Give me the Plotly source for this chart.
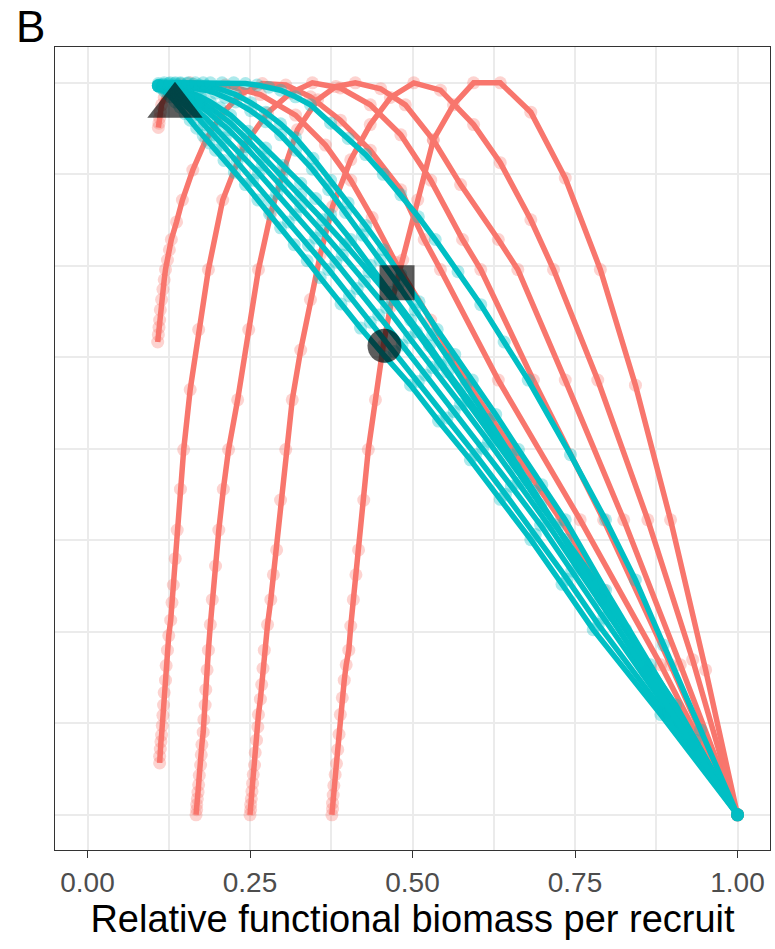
import plotly.graph_objects as go

# ---------------- data ----------------
# Red curves (six scenarios), x = relative functional biomass per recruit, y = relative value
red_A_x = [0.376, 0.377, 0.377, 0.378, 0.379, 0.381, 0.383, 0.385, 0.387, 0.389, 0.392, 0.395, 0.398, 0.402,
           0.405, 0.409, 0.413, 0.417, 0.425, 0.432, 0.443, 0.455, 0.466, 0.485, 0.508, 0.532, 0.563, 0.594,
           0.635, 0.682, 0.735, 0.789, 0.843, 0.897, 0.951, 1.000]
red_A_y = [0.000, 0.008, 0.016, 0.027, 0.040, 0.055, 0.070, 0.089, 0.110, 0.137, 0.160, 0.184, 0.205, 0.225,
           0.258, 0.294, 0.328, 0.362, 0.430, 0.499, 0.567, 0.641, 0.694, 0.758, 0.840, 0.922, 0.970, 1.000,
           1.000, 0.960, 0.870, 0.745, 0.587, 0.403, 0.198, 0.000]

red_B_x = [0.250, 0.251, 0.251, 0.252, 0.253, 0.254, 0.255, 0.257, 0.258, 0.260, 0.262, 0.263, 0.266, 0.268,
           0.270, 0.272, 0.277, 0.282, 0.286, 0.291, 0.297, 0.305, 0.315, 0.328, 0.343, 0.358, 0.377, 0.405,
           0.435, 0.466, 0.502, 0.543, 0.594, 0.635, 0.682, 0.717, 0.785, 0.862, 0.931, 1.000]
red_B_y = [0.000, 0.007, 0.014, 0.022, 0.032, 0.043, 0.055, 0.068, 0.085, 0.102, 0.120, 0.137, 0.158, 0.178,
           0.200, 0.225, 0.260, 0.294, 0.328, 0.362, 0.430, 0.499, 0.567, 0.635, 0.704, 0.765, 0.831, 0.895,
           0.943, 0.980, 1.000, 0.990, 0.943, 0.891, 0.813, 0.745, 0.594, 0.403, 0.212, 0.000]

red_C_x = [0.167, 0.168, 0.168, 0.169, 0.170, 0.171, 0.172, 0.174, 0.175, 0.176, 0.178, 0.179, 0.181, 0.182,
           0.184, 0.186, 0.189, 0.192, 0.197, 0.202, 0.209, 0.217, 0.231, 0.248, 0.263, 0.282, 0.302, 0.323,
           0.354, 0.382, 0.412, 0.451, 0.489, 0.532, 0.574, 0.632, 0.662, 0.735, 0.825, 0.912, 1.000]
red_C_y = [0.000, 0.007, 0.014, 0.022, 0.031, 0.041, 0.054, 0.068, 0.082, 0.096, 0.113, 0.130, 0.150, 0.171,
           0.198, 0.225, 0.260, 0.294, 0.340, 0.389, 0.445, 0.499, 0.567, 0.663, 0.745, 0.822, 0.881, 0.936,
           0.977, 0.995, 1.000, 0.992, 0.970, 0.922, 0.861, 0.786, 0.745, 0.594, 0.403, 0.205, 0.000]

red_D_x = [0.111, 0.111, 0.112, 0.113, 0.114, 0.115, 0.116, 0.117, 0.118, 0.120, 0.121, 0.123, 0.125, 0.128,
           0.130, 0.132, 0.135, 0.138, 0.143, 0.148, 0.158, 0.171, 0.186, 0.208, 0.240, 0.277, 0.312, 0.346,
           0.389, 0.435, 0.482, 0.528, 0.577, 0.605, 0.686, 0.794, 0.897, 1.000]
red_D_y = [0.071, 0.080, 0.090, 0.100, 0.109, 0.122, 0.136, 0.150, 0.167, 0.184, 0.204, 0.225, 0.245, 0.266,
           0.290, 0.314, 0.350, 0.389, 0.445, 0.499, 0.581, 0.663, 0.745, 0.840, 0.913, 0.959, 0.986, 1.000,
           0.993, 0.970, 0.929, 0.867, 0.786, 0.745, 0.594, 0.403, 0.205, 0.000]

red_E_x = [0.108, 0.109, 0.110, 0.111, 0.112, 0.114, 0.116, 0.118, 0.120, 0.123, 0.126, 0.129, 0.137, 0.146,
           0.162, 0.182, 0.205, 0.235, 0.269, 0.305, 0.343, 0.389, 0.435, 0.482, 0.518, 0.543, 0.632, 0.758,
           0.882, 1.000]
red_E_y = [0.646, 0.656, 0.666, 0.676, 0.690, 0.704, 0.718, 0.731, 0.745, 0.758, 0.772, 0.786, 0.810, 0.840,
           0.881, 0.922, 0.956, 0.984, 0.999, 0.997, 0.981, 0.949, 0.908, 0.854, 0.786, 0.745, 0.594, 0.403,
           0.205, 0.000]

red_F_x = [0.109, 0.110, 0.111, 0.112, 0.114, 0.118, 0.124, 0.131, 0.143, 0.158, 0.212, 0.266, 0.320, 0.366,
           0.405, 0.438, 0.474, 0.528, 0.582, 0.654, 0.728, 0.794, 0.866, 1.000]
red_F_y = [0.939, 0.945, 0.952, 0.960, 0.970, 0.980, 0.988, 0.993, 0.998, 1.000, 0.997, 0.984, 0.956, 0.915,
           0.867, 0.816, 0.755, 0.676, 0.594, 0.499, 0.403, 0.307, 0.198, 0.000]

# Teal curves
teal_1a_x = [0.109, 0.113, 0.118, 0.123, 0.128, 0.135, 0.142, 0.150, 0.158, 0.168, 0.178, 0.187, 0.197, 0.210,
             0.226, 0.243, 0.262, 0.280, 0.297, 0.318, 0.338, 0.358, 0.390, 0.420, 0.458, 0.497, 0.540, 0.589,
             0.635, 0.682, 0.730, 0.778, 0.882, 1.000]
teal_1a_y = [0.996, 0.993, 0.989, 0.985, 0.981, 0.974, 0.967, 0.958, 0.949, 0.938, 0.928, 0.918, 0.908, 0.894,
             0.878, 0.861, 0.840, 0.821, 0.802, 0.779, 0.757, 0.734, 0.698, 0.665, 0.626, 0.587, 0.538, 0.485,
             0.431, 0.376, 0.315, 0.253, 0.137, 0.000]

teal_1b_x = [0.109, 0.114, 0.119, 0.125, 0.131, 0.139, 0.147, 0.156, 0.166, 0.180, 0.194, 0.208, 0.230, 0.254,
             0.281, 0.309, 0.340, 0.371, 0.403, 0.435, 0.472, 0.509, 0.553, 0.597, 0.643, 0.689, 0.738, 0.786,
             0.886, 1.000]
teal_1b_y = [0.996, 0.994, 0.992, 0.989, 0.985, 0.979, 0.972, 0.965, 0.956, 0.943, 0.929, 0.915, 0.892, 0.867,
             0.839, 0.810, 0.778, 0.745, 0.709, 0.673, 0.633, 0.592, 0.542, 0.492, 0.438, 0.383, 0.322, 0.260,
             0.141, 0.000]

teal_1c_x = [0.109, 0.115, 0.120, 0.126, 0.132, 0.140, 0.149, 0.159, 0.169, 0.183, 0.197, 0.212, 0.237, 0.263,
             0.291, 0.320, 0.351, 0.382, 0.415, 0.448, 0.484, 0.520, 0.564, 0.608, 0.652, 0.697, 0.745, 0.794,
             0.894, 1.000]
teal_1c_y = [0.996, 0.995, 0.993, 0.991, 0.988, 0.983, 0.977, 0.970, 0.963, 0.951, 0.938, 0.925, 0.901, 0.877,
             0.849, 0.820, 0.788, 0.755, 0.719, 0.683, 0.642, 0.601, 0.551, 0.501, 0.449, 0.396, 0.333, 0.269,
             0.141, 0.000]

teal_1d_x = [0.109, 0.115, 0.121, 0.127, 0.134, 0.143, 0.152, 0.161, 0.171, 0.186, 0.201, 0.217, 0.243, 0.269,
             0.298, 0.328, 0.360, 0.392, 0.426, 0.460, 0.495, 0.531, 0.574, 0.617, 0.663, 0.709, 0.755, 0.802,
             0.897, 1.000]
teal_1d_y = [0.996, 0.995, 0.994, 0.992, 0.990, 0.986, 0.981, 0.976, 0.970, 0.960, 0.948, 0.936, 0.913, 0.888,
             0.860, 0.831, 0.798, 0.765, 0.729, 0.693, 0.652, 0.611, 0.561, 0.510, 0.453, 0.396, 0.335, 0.273,
             0.148, 0.000]

teal_1e_x = [0.109, 0.116, 0.122, 0.128, 0.135, 0.144, 0.154, 0.164, 0.174, 0.189, 0.204, 0.220, 0.245, 0.271,
             0.299, 0.328, 0.362, 0.397, 0.433, 0.469, 0.506, 0.543, 0.585, 0.628, 0.674, 0.720, 0.765, 0.809,
             0.905, 1.000]
teal_1e_y = [0.996, 0.996, 0.995, 0.994, 0.992, 0.989, 0.985, 0.980, 0.975, 0.966, 0.956, 0.945, 0.923, 0.899,
             0.873, 0.847, 0.813, 0.779, 0.742, 0.704, 0.660, 0.615, 0.564, 0.512, 0.454, 0.396, 0.337, 0.277,
             0.150, 0.000]

teal_1f_x = [0.109, 0.116, 0.122, 0.128, 0.135, 0.144, 0.154, 0.164, 0.174, 0.189, 0.204, 0.220, 0.247, 0.274,
             0.301, 0.328, 0.351, 0.374, 0.405, 0.435, 0.466, 0.497, 0.526, 0.554, 0.587, 0.620, 0.658, 0.697,
             0.736, 0.774, 0.828, 0.912, 1.000]
teal_1f_y = [0.996, 0.996, 0.995, 0.994, 0.993, 0.991, 0.988, 0.985, 0.981, 0.974, 0.966, 0.956, 0.934, 0.911,
             0.887, 0.863, 0.842, 0.820, 0.786, 0.751, 0.714, 0.676, 0.641, 0.605, 0.566, 0.526, 0.475, 0.423,
             0.376, 0.328, 0.253, 0.127, 0.000]

teal_2a_x = [0.109, 0.117, 0.125, 0.134, 0.143, 0.153, 0.163, 0.172, 0.182, 0.197, 0.212, 0.228, 0.251, 0.274,
             0.297, 0.320, 0.347, 0.374, 0.401, 0.428, 0.455, 0.482, 0.510, 0.538, 0.565, 0.592, 0.628, 0.663,
             0.699, 0.735, 0.797, 0.866, 0.935, 1.000]
teal_2a_y = [0.997, 0.998, 0.999, 0.999, 0.999, 0.999, 0.998, 0.997, 0.996, 0.993, 0.989, 0.984, 0.973, 0.960,
             0.944, 0.925, 0.897, 0.867, 0.836, 0.805, 0.772, 0.738, 0.701, 0.663, 0.629, 0.594, 0.547, 0.499,
             0.451, 0.403, 0.307, 0.205, 0.102, 0.000]

teal_2b_x = [0.109, 0.117, 0.125, 0.134, 0.143, 0.153, 0.163, 0.172, 0.182, 0.197, 0.212, 0.228, 0.251, 0.274,
             0.297, 0.320, 0.346, 0.371, 0.397, 0.423, 0.450, 0.478, 0.504, 0.531, 0.556, 0.582, 0.617, 0.651,
             0.687, 0.723, 0.789, 0.858, 0.931, 1.000]
teal_2b_y = [0.996, 0.997, 0.997, 0.997, 0.996, 0.995, 0.994, 0.992, 0.990, 0.986, 0.980, 0.974, 0.962, 0.947,
             0.929, 0.908, 0.882, 0.854, 0.823, 0.792, 0.758, 0.724, 0.690, 0.656, 0.622, 0.587, 0.540, 0.492,
             0.442, 0.392, 0.294, 0.195, 0.096, 0.000]

teal_3_x = [0.109, 0.118, 0.127, 0.135, 0.143, 0.155, 0.166, 0.178, 0.189, 0.207, 0.225, 0.243, 0.261, 0.279,
            0.297, 0.320, 0.343, 0.374, 0.401, 0.428, 0.455, 0.482, 0.509, 0.535, 0.570, 0.605, 0.641, 0.678,
            0.743, 0.797, 0.843, 0.886, 0.943, 1.000]
teal_3_y = [0.999, 1.000, 1.000, 1.000, 1.000, 1.000, 1.000, 1.000, 1.000, 1.000, 1.000, 0.999, 0.997, 0.994,
            0.990, 0.981, 0.970, 0.945, 0.924, 0.902, 0.875, 0.847, 0.817, 0.786, 0.742, 0.697, 0.646, 0.594,
            0.492, 0.403, 0.321, 0.232, 0.116, 0.000]

# Highlighted reference points
tri_x, tri_y = [0.1346], [0.9686]
sq_x, sq_y = [0.4762], [0.7268]
circ_x, circ_y = [0.4569], [0.6407]

x_tickvals = [0.0, 0.25, 0.5, 0.75, 1.0]
x_ticktext = ["0.00", "0.25", "0.50", "0.75", "1.00"]
y_tickvals = [0.0, 0.25, 0.5, 0.75, 1.0]
minor_vals = [0.125, 0.375, 0.625, 0.875]

RED = "#F8766D"
TEAL = "#00BFC4"
RED_PT = "rgba(248,118,109,0.32)"
TEAL_PT = "rgba(0,191,196,0.32)"

red_curves = [(red_A_x, red_A_y), (red_B_x, red_B_y), (red_C_x, red_C_y),
              (red_D_x, red_D_y), (red_E_x, red_E_y), (red_F_x, red_F_y)]
teal_curves = [(teal_1a_x, teal_1a_y), (teal_1b_x, teal_1b_y), (teal_1c_x, teal_1c_y),
               (teal_1d_x, teal_1d_y), (teal_1e_x, teal_1e_y), (teal_1f_x, teal_1f_y),
               (teal_2a_x, teal_2a_y), (teal_2b_x, teal_2b_y), (teal_3_x, teal_3_y)]

fig = go.Figure()
for xs, ys in red_curves:
    fig.add_trace(go.Scatter(x=xs, y=ys, mode="lines+markers",
                             line=dict(color=RED, width=5.5),
                             marker=dict(color=RED_PT, size=13, line=dict(width=0)),
                             showlegend=False, hoverinfo="skip"))
for xs, ys in teal_curves:
    fig.add_trace(go.Scatter(x=xs, y=ys, mode="lines+markers",
                             line=dict(color=TEAL, width=5.5),
                             marker=dict(color=TEAL_PT, size=13, line=dict(width=0)),
                             showlegend=False, hoverinfo="skip"))

BLK = "rgba(0,0,0,0.64)"
fig.add_trace(go.Scatter(x=tri_x, y=tri_y, mode="markers",
                         marker=dict(symbol="triangle-up", size=48, color=BLK, line=dict(width=0)),
                         showlegend=False))
fig.add_trace(go.Scatter(x=sq_x, y=sq_y, mode="markers",
                         marker=dict(symbol="square", size=35, color=BLK, line=dict(width=0)),
                         showlegend=False))
fig.add_trace(go.Scatter(x=circ_x, y=circ_y, mode="markers",
                         marker=dict(symbol="circle", size=34, color=BLK, line=dict(width=0)),
                         showlegend=False))

GRID = "#EBEBEB"
fig.update_layout(
    width=775, height=949,
    margin=dict(l=55, r=5, t=47, b=99),
    paper_bgcolor="white", plot_bgcolor="white",
    font=dict(family="Liberation Sans, Arial, sans-serif", color="#000000"),
    xaxis=dict(range=[-0.05, 1.05], tickvals=x_tickvals, ticktext=x_ticktext,
               showgrid=True, gridcolor=GRID, gridwidth=2,
               minor=dict(tickvals=minor_vals, showgrid=True, gridcolor=GRID, gridwidth=1.5, ticks=""),
               zeroline=False, showline=True, linecolor="#333333", linewidth=1.3, mirror=True,
               ticks="outside", ticklen=7, tickwidth=1.3, tickcolor="#333333",
               tickfont=dict(size=28, color="#4D4D4D"),
               title=dict(text="Relative functional biomass per recruit", font=dict(size=38, color="#000000"),
                          standoff=6)),
    yaxis=dict(range=[-0.048, 1.049], tickvals=y_tickvals, showticklabels=False, ticks="",
               showgrid=True, gridcolor=GRID, gridwidth=2,
               minor=dict(tickvals=minor_vals, showgrid=True, gridcolor=GRID, gridwidth=1.5, ticks=""),
               zeroline=False, showline=True, linecolor="#333333", linewidth=1.3, mirror=True),
    annotations=[dict(text="B", xref="paper", yref="paper", x=-0.057, y=1.026,
                      xanchor="left", yanchor="middle", showarrow=False,
                      font=dict(size=44, color="#000000"))],
)

fig.write_html("out.html")
